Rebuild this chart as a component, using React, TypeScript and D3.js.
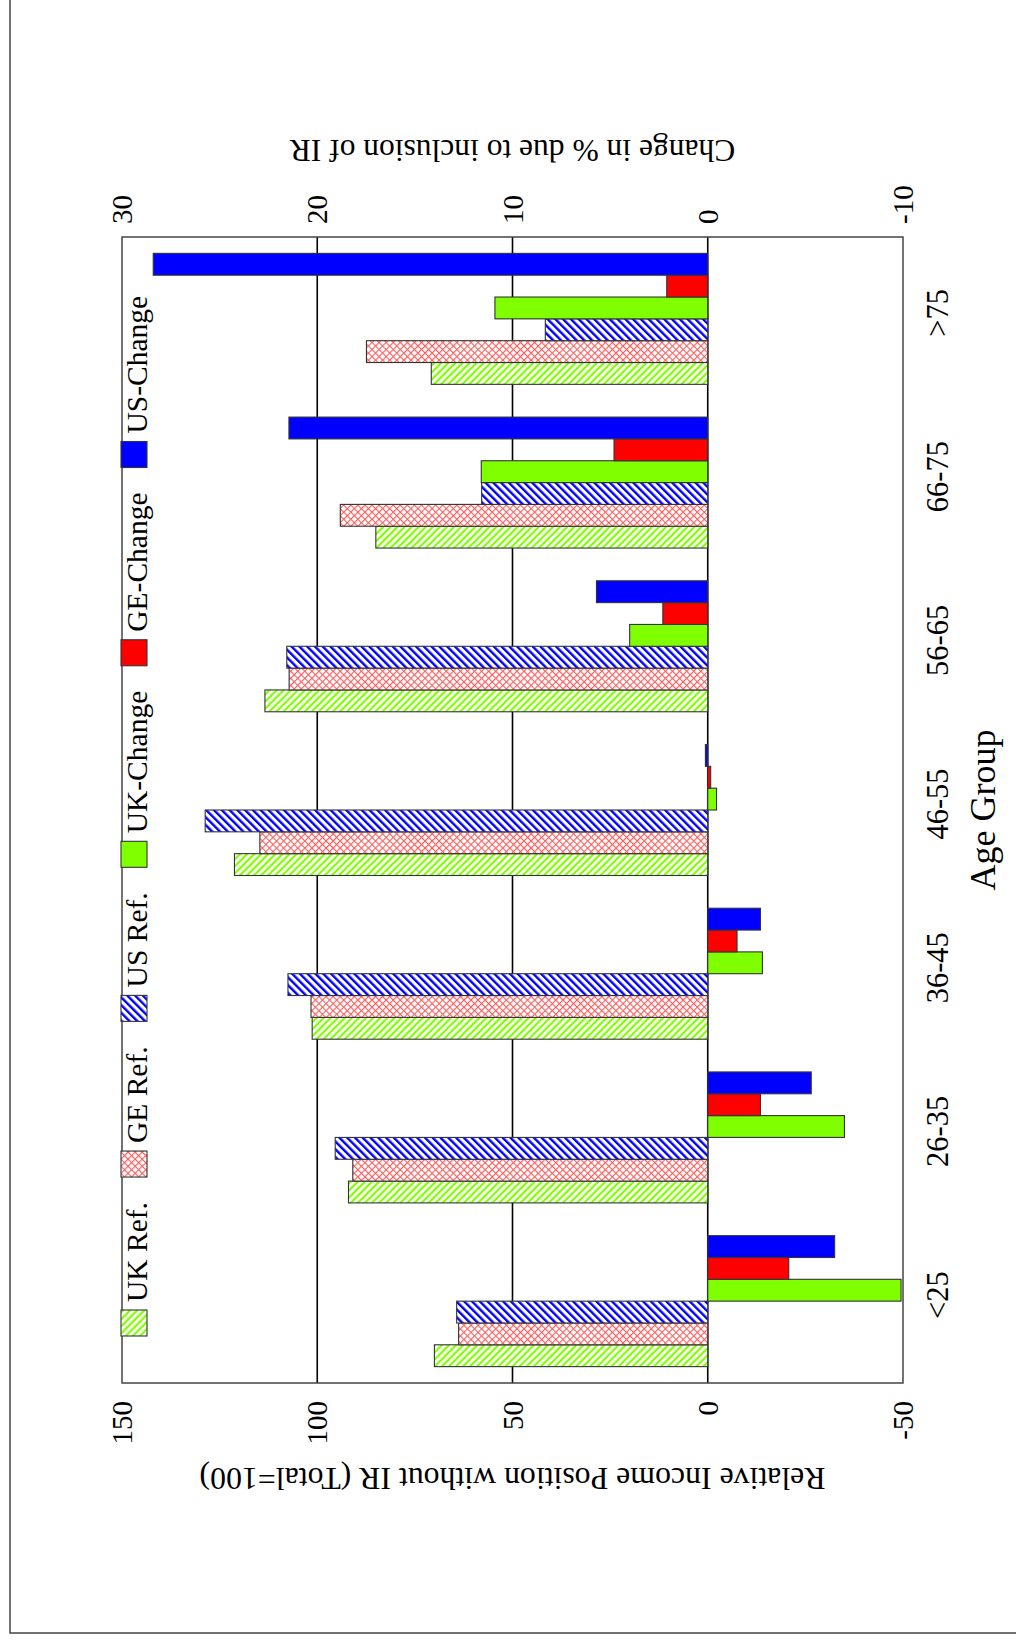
import React, { useEffect, useRef } from "react";
import * as d3 from "d3";

const categories = ["<25", "26-35", "36-45", "46-55", "56-65", "66-75", ">75"];
const seriesNames = ["UK Ref.", "GE Ref.", "US Ref.", "UK-Change", "GE-Change", "US-Change"];
const ukRef = [70.0, 92.0, 101.3, 121.2, 113.4, 85.0, 70.8];
const geRef = [63.8, 90.9, 101.6, 114.7, 107.2, 94.1, 87.4];
const usRef = [64.3, 95.4, 107.5, 128.7, 107.8, 57.9, 41.6];
const ukChange = [-9.9, -7.0, -2.8, -0.45, 4.0, 11.6, 10.9];
const geChange = [-4.15, -2.7, -1.5, -0.15, 2.3, 4.8, 2.1];
const usChange = [-6.5, -5.3, -2.7, 0.12, 5.7, 21.45, 28.4];
const leftTicks = [-50, 0, 50, 100, 150];
const rightTicks = [-10, 0, 10, 20, 30];
const gridValues = [0, 50, 100];

const W = 1016;
const H = 1640;
const FONT = "'Liberation Serif', 'Times New Roman', serif";

export default function App() {
  const ref = useRef<SVGSVGElement | null>(null);

  useEffect(() => {
    const svg = d3.select(ref.current);
    svg.selectAll("*").remove();

    const defs = svg.append("defs");
    // UK Ref: green diagonal stripes
    const pUK = defs
      .append("pattern")
      .attr("id", "pUK")
      .attr("patternUnits", "userSpaceOnUse")
      .attr("width", 5)
      .attr("height", 5)
      .attr("patternTransform", "rotate(-45)");
    pUK.append("rect").attr("width", 5).attr("height", 5).attr("fill", "#fff");
    pUK.append("rect").attr("width", 2.2).attr("height", 5).attr("fill", "#80ff00");
    // US Ref: blue diagonal stripes (other direction)
    const pUS = defs
      .append("pattern")
      .attr("id", "pUS")
      .attr("patternUnits", "userSpaceOnUse")
      .attr("width", 5.5)
      .attr("height", 5.5)
      .attr("patternTransform", "rotate(45)");
    pUS.append("rect").attr("width", 5.5).attr("height", 5.5).attr("fill", "#fff");
    pUS.append("rect").attr("width", 2.4).attr("height", 5.5).attr("fill", "#0000ff");
    // GE Ref: red crosshatch
    const pGE = defs
      .append("pattern")
      .attr("id", "pGE")
      .attr("patternUnits", "userSpaceOnUse")
      .attr("width", 5)
      .attr("height", 5)
      .attr("patternTransform", "rotate(45)");
    pGE.append("rect").attr("width", 5).attr("height", 5).attr("fill", "#fff");
    pGE.append("rect").attr("width", 1.1).attr("height", 5).attr("fill", "#ff5a5a");
    pGE.append("rect").attr("width", 5).attr("height", 1.1).attr("fill", "#ff5a5a");

    const fills = ["url(#pUK)", "url(#pGE)", "url(#pUS)", "#80ff00", "#ff0000", "#0000ff"];
    const seriesData = [ukRef, geRef, usRef, ukChange, geChange, usChange];

    // page border (image coordinates)
    svg
      .append("path")
      .attr("d", `M10,0 L10,1633 L${W},1633`)
      .attr("fill", "none")
      .attr("stroke", "#444")
      .attr("stroke-width", 1.5);

    // rotated chart group: inner u horizontal (0..H), v vertical (0..W)
    const g = svg.append("g").attr("transform", `translate(0,${H}) rotate(-90)`);

    const left = 257,
      right = 1403,
      top = 122,
      bottom = 903;

    const x = d3.scaleBand<string>().domain(categories).range([left, right]).padding(0);
    const xs = d3
      .scaleBand<string>()
      .domain(seriesNames)
      .range([0, x.bandwidth()])
      .paddingInner(0)
      .paddingOuter(0.75);
    const yL = d3.scaleLinear().domain([-50, 150]).range([bottom, top]);
    const yR = d3.scaleLinear().domain([-10, 30]).range([bottom, top]);

    // gridlines
    g.selectAll("line.grid")
      .data(gridValues)
      .enter()
      .append("line")
      .attr("x1", left)
      .attr("x2", right)
      .attr("y1", (d) => yL(d))
      .attr("y2", (d) => yL(d))
      .attr("stroke", "#000")
      .attr("stroke-width", 1.6);

    // bars
    seriesData.forEach((vals, si) => {
      const scale = si < 3 ? yL : yR;
      g.append("g")
        .selectAll("rect")
        .data(vals)
        .enter()
        .append("rect")
        .attr("x", (_d, i) => (x(categories[i]) as number) + (xs(seriesNames[si]) as number))
        .attr("width", xs.bandwidth())
        .attr("y", (d) => Math.min(scale(d), scale(0)))
        .attr("height", (d) => Math.abs(scale(d) - scale(0)))
        .attr("fill", fills[si])
        .attr("stroke", "#333")
        .attr("stroke-width", 1.1);
    });

    // frame
    g.append("rect")
      .attr("x", left)
      .attr("y", top)
      .attr("width", right - left)
      .attr("height", bottom - top)
      .attr("fill", "none")
      .attr("stroke", "#444")
      .attr("stroke-width", 1.5);

    // left axis labels
    g.selectAll("text.lt")
      .data(leftTicks)
      .enter()
      .append("text")
      .attr("x", left - 18)
      .attr("y", (d) => yL(d))
      .attr("dy", "0.35em")
      .attr("text-anchor", "end")
      .attr("font-family", FONT)
      .attr("font-size", 29)
      .text((d) => String(d));

    // right axis labels
    g.selectAll("text.rt")
      .data(rightTicks)
      .enter()
      .append("text")
      .attr("x", right + 13)
      .attr("y", (d) => yR(d))
      .attr("dy", "0.35em")
      .attr("text-anchor", "start")
      .attr("font-family", FONT)
      .attr("font-size", 29)
      .text((d) => String(d));

    // category labels
    g.selectAll("text.cat")
      .data(categories)
      .enter()
      .append("text")
      .attr("x", (d) => (x(d) as number) + x.bandwidth() / 2 + 6)
      .attr("y", bottom + 45)
      .attr("text-anchor", "middle")
      .attr("font-family", FONT)
      .attr("font-size", 30.5)
      .text((d) => d);

    // x title
    g.append("text")
      .attr("x", (left + right) / 2)
      .attr("y", 995)
      .attr("text-anchor", "middle")
      .attr("font-family", FONT)
      .attr("font-size", 36)
      .text("Age Group");

    // left title
    const cy = (top + bottom) / 2;
    g.append("text")
      .attr("transform", `translate(${172},${cy}) rotate(-90)`)
      .attr("text-anchor", "middle")
      .attr("font-family", FONT)
      .attr("font-size", 31.8)
      .text("Relative Income Position without IR (Total=100)");

    // right title
    g.append("text")
      .attr("transform", `translate(${1500},${cy}) rotate(-90)`)
      .attr("text-anchor", "middle")
      .attr("font-family", FONT)
      .attr("font-size", 31.5)
      .text("Change in % due to inclusion of IR");

    // legend
    let lu = 304;
    seriesNames.forEach((name, si) => {
      g.append("rect")
        .attr("x", lu)
        .attr("y", 121)
        .attr("width", 26)
        .attr("height", 26)
        .attr("fill", fills[si])
        .attr("stroke", "#333")
        .attr("stroke-width", 1.1);
      const t = g
        .append("text")
        .attr("x", lu + 34)
        .attr("y", 147)
        .attr("font-family", FONT)
        .attr("font-size", 29.5)
        .text(name);
      const node = t.node() as SVGTextElement;
      const w = node ? node.getComputedTextLength() : name.length * 14;
      lu = lu + 34 + w + 25;
    });
  }, []);

  return (
    <svg
      ref={ref}
      width={W}
      height={H}
      style={{ position: "absolute", left: 0, top: 0, background: "#fff" }}
    />
  );
}
